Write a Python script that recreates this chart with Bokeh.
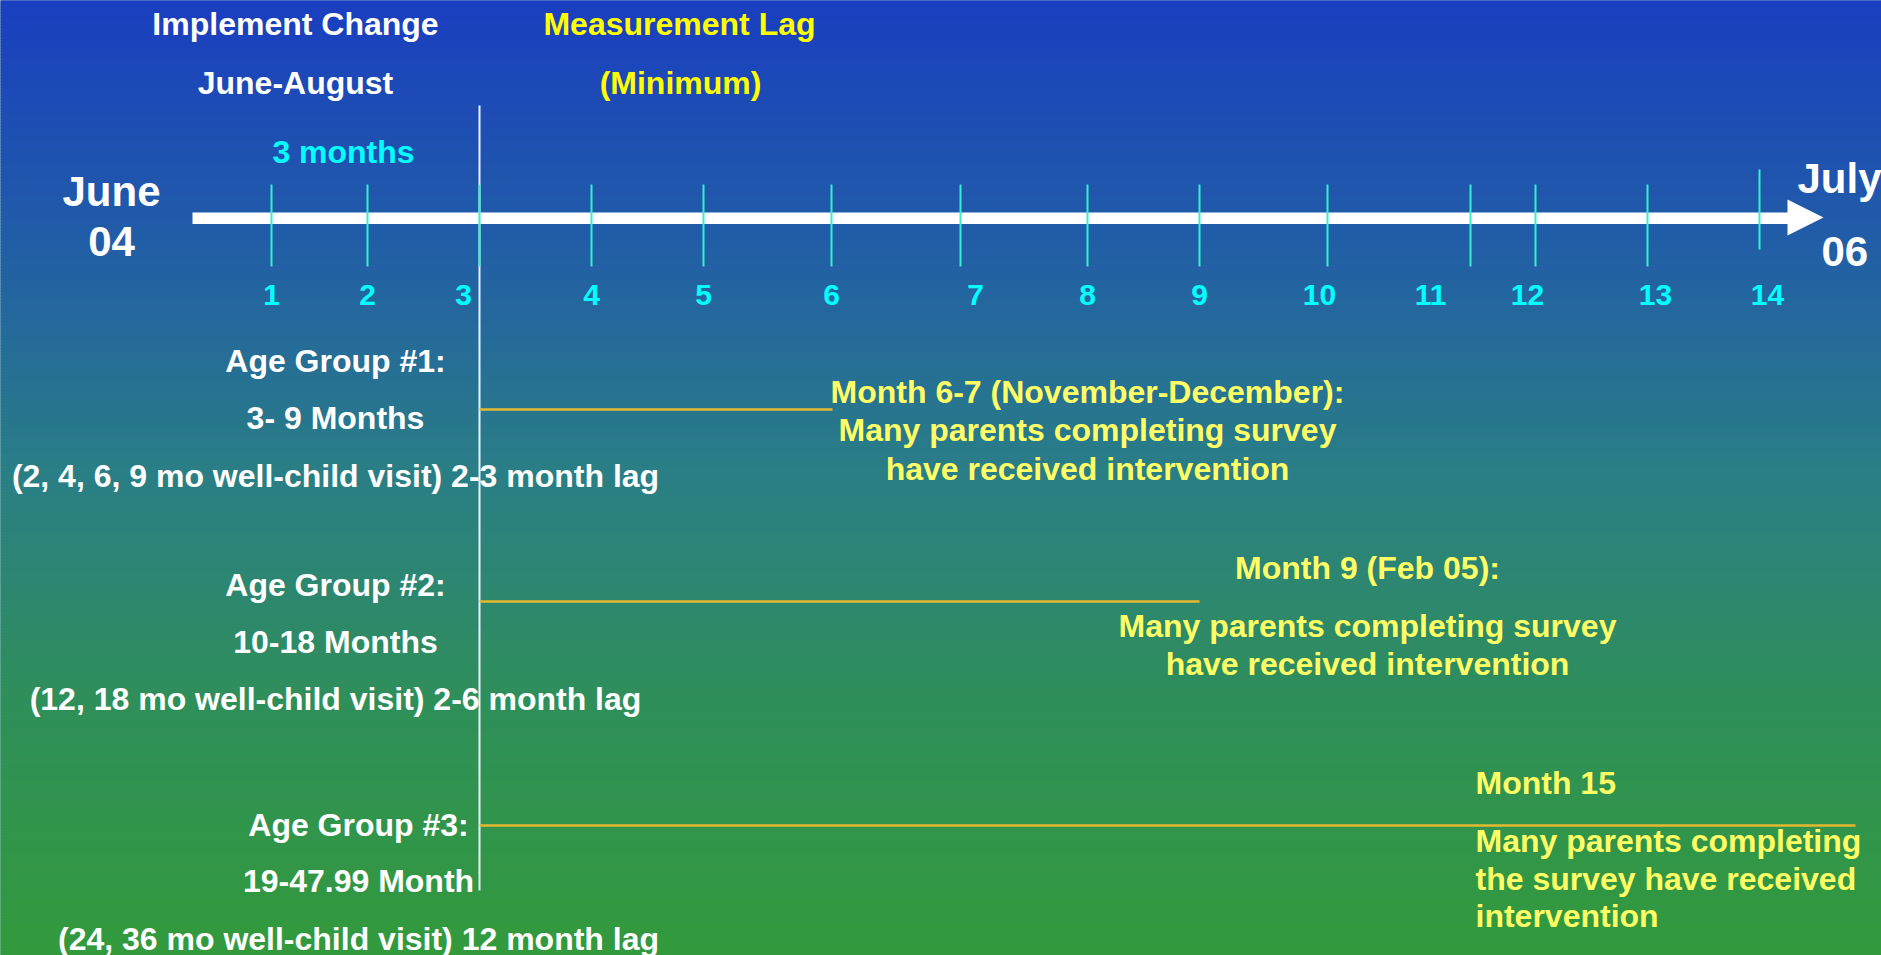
from bokeh.plotting import figure
from bokeh.models import Range1d, ColumnDataSource
from bokeh.core.properties import value
from bokeh.embed import file_html
from bokeh.resources import INLINE

W, H = 1881, 955
FONT = "Liberation Sans"

# ---- data ----
month_labels = ["1", "2", "3", "4", "5", "6", "7", "8", "9", "10", "11", "12", "13", "14"]
tick_x = [271, 367, 479, 591, 703, 831, 960, 1087, 1199, 1327, 1470, 1535, 1647, 1759]
tick_top = [184, 184, 184, 184, 184, 184, 184, 184, 184, 184, 184, 184, 184, 169]
tick_bot = [266, 266, 266, 266, 266, 266, 266, 266, 266, 266, 266, 266, 266, 249]
label_x = [271, 367, 463, 591, 703, 831, 975, 1087, 1199, 1319, 1430, 1527, 1655, 1767]

lag_start = [479, 479, 479]
lag_end = [832, 1199, 1855]
lag_y = [409, 601, 825]

group_texts = [
    "Age Group #1:", "3- 9 Months", "(2, 4, 6, 9 mo well-child visit) 2-3 month lag",
    "Age Group #2:", "10-18 Months", "(12, 18 mo well-child visit) 2-6 month lag",
    "Age Group #3:", "19-47.99 Month", "(24, 36 mo well-child visit) 12 month lag",
]
group_x = [335, 335, 335, 335, 335, 335, 358, 358, 358]
group_y = [360, 417, 475, 584, 641, 698, 824, 880, 938]

note_texts_c = [
    "Month 6-7 (November-December):", "Many parents completing survey", "have received intervention",
    "Month 9 (Feb 05):", "Many parents completing survey", "have received intervention",
]
note_x_c = [1087, 1087, 1087, 1367, 1367, 1367]
note_y_c = [391, 429, 468, 567, 625, 663]

note_texts_l = ["Month 15", "Many parents completing", "the survey have received", "intervention"]
note_x_l = [1475, 1475, 1475, 1475]
note_y_l = [782, 840, 878, 915]

# ---- figure ----
p = figure(width=W, height=H, x_range=Range1d(0, W), y_range=Range1d(H, 0),
           output_backend="svg", toolbar_location=None, min_border=0)
p.axis.visible = False
p.grid.visible = False
p.outline_line_color = None
p.background_fill_color = "#2a7f86"
p.border_fill_color = "#2a7f86"

# background gradient (blue -> teal -> green)
stops = [(0, (26, 62, 192)), (230, (33, 92, 168)), (470, (42, 126, 134)),
         (700, (47, 143, 90)), (955, (51, 154, 60))]

def col_at(y):
    y = min(max(y, 0), 955)
    for (y0, c0), (y1, c1) in zip(stops[:-1], stops[1:]):
        if y0 <= y <= y1:
            t = (y - y0) / (y1 - y0)
            return "#%02x%02x%02x" % tuple(int(round(a + (b - a) * t)) for a, b in zip(c0, c1))
    return "#%02x%02x%02x" % stops[-1][1]

band_top = list(range(-6, H + 6, 3))
band_bot = [b + 3.6 for b in band_top]
band_col = [col_at(b + 1.5) for b in band_top]
p.quad(left=-10, right=W + 10, top=band_top, bottom=band_bot, fill_color=band_col,
       line_color=None)

# main arrow
p.quad(left=[192], right=[1788], top=[212], bottom=[223.5], fill_color="white", line_color=None)
p.patch(x=[1787, 1823, 1787], y=[199, 217, 235], fill_color="white", line_color=None)

# vertical divider
p.segment(x0=[479], y0=[105], x1=[479], y1=[890], line_color="#e8f4ff", line_width=2)

# ticks
p.segment(x0=tick_x, y0=tick_top, x1=tick_x, y1=tick_bot, line_color="#33f0d0", line_width=2)

# lag lines
p.segment(x0=lag_start, y0=lag_y, x1=lag_end, y1=lag_y, line_color="#e6b830", line_width=2.5)

def txt(xs, ys, texts, color, size, align="center"):
    src = ColumnDataSource(dict(x=xs, y=ys, t=texts))
    p.text(x="x", y="y", text="t", source=src, text_color=color,
           text_font=value(FONT), text_font_size=f"{size}px", text_font_style="bold",
           text_align=align, text_baseline="middle")

# month numbers
txt(label_x, [294] * len(label_x), month_labels, "#00ffff", 30)

# headers
txt([295, 295], [23, 82], ["Implement Change", "June-August"], "white", 32)
txt([679, 680], [23, 82], ["Measurement Lag", "(Minimum)"], "#ffff00", 32)
txt([343], [151], ["3 months"], "#00ffff", 32)

# endpoints
txt([111, 111], [191, 241], ["June", "04"], "white", 42)
txt([1797, 1821], [178, 251], ["July", "06"], "white", 42, align="left")

# age groups
txt(group_x, group_y, group_texts, "white", 32)

# notes
txt(note_x_c, note_y_c, note_texts_c, "#ffff66", 32)
txt(note_x_l, note_y_l, note_texts_l, "#ffff66", 32, align="left")

open("out.html", "w").write(file_html(p, INLINE))
